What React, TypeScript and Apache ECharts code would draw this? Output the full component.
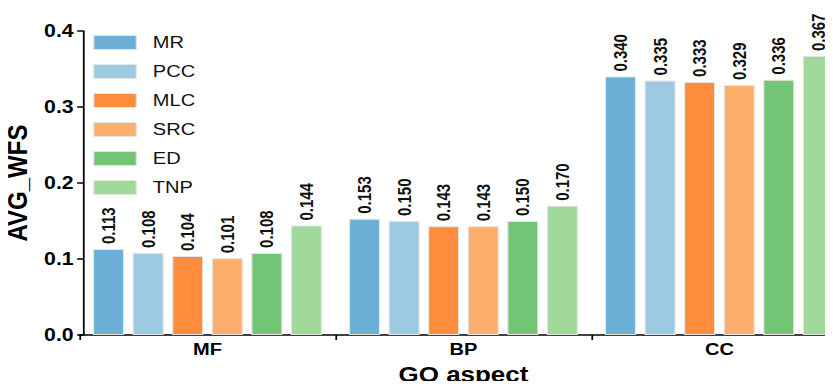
import React, { useEffect, useRef } from "react";
import * as echarts from "echarts";

const categories = ["MF", "BP", "CC"];
const seriesNames = ["MR", "PCC", "MLC", "SRC", "ED", "TNP"];
const colors = ["#6baed6", "#9ecae1", "#fd8d3c", "#fdae6b", "#74c476", "#a1d99b"];
const mrValues = [0.113, 0.153, 0.34];
const pccValues = [0.108, 0.15, 0.335];
const mlcValues = [0.104, 0.143, 0.333];
const srcValues = [0.101, 0.143, 0.329];
const edValues = [0.108, 0.15, 0.336];
const tnpValues = [0.144, 0.17, 0.367];
const yTicks = [0, 0.1, 0.2, 0.3, 0.4];

const seriesValues = [mrValues, pccValues, mlcValues, srcValues, edValues, tnpValues];
const FONT = "Liberation Sans, Arial, sans-serif";

// The figure is laid out on a narrower canvas and widened horizontally.
const OUT_W = 833;
const OUT_H = 389;
const STRETCH = 1.18;
const BASE_W = Math.round(OUT_W / STRETCH);

export default function App() {
  const ref = useRef<HTMLDivElement>(null);

  useEffect(() => {
    if (!ref.current) return;
    const chart = echarts.init(ref.current, null, { renderer: "svg" });
    chart.setOption({
      animation: false,
      backgroundColor: "#ffffff",
      textStyle: { fontFamily: FONT },
      grid: {
        left: 67.4,
        top: 31,
        bottom: 54,
        right: -12.2,
        containLabel: false,
        outerBoundsMode: "none",
      },
      legend: {
        orient: "vertical",
        left: 74,
        top: 29,
        itemWidth: 36,
        itemHeight: 14,
        itemGap: 12,
        icon: "rect",
        itemStyle: { borderColor: "#e4e4e4", borderWidth: 1 },
        textStyle: { fontSize: 17, color: "#111", fontFamily: FONT, padding: [0, 0, 0, 9] },
        data: seriesNames,
      },
      xAxis: {
        type: "category",
        data: categories,
        name: "GO aspect",
        nameLocation: "middle",
        nameGap: 27,
        nameTextStyle: { fontSize: 22, fontWeight: "bold", color: "#000", fontFamily: FONT },
        axisLine: { lineStyle: { color: "#000", width: 1.5 } },
        axisTick: { show: true, length: 5, alignWithLabel: false, lineStyle: { color: "#000", width: 1.5 } },
        axisLabel: { fontSize: 17, fontWeight: "bold", color: "#000", margin: 6, fontFamily: FONT },
      },
      yAxis: {
        type: "value",
        min: yTicks[0],
        max: yTicks[yTicks.length - 1],
        interval: 0.1,
        offset: -3,
        name: "AVG_WFS",
        nameLocation: "middle",
        nameGap: 34,
        nameTextStyle: { fontSize: 24, fontWeight: "bold", color: "#000", fontFamily: FONT },
        splitLine: { show: false },
        axisLine: { show: true, lineStyle: { color: "#000", width: 1.5 } },
        axisTick: { show: true, length: 5, lineStyle: { color: "#000", width: 1.5 } },
        axisLabel: {
          fontSize: 18,
          fontWeight: "bold",
          color: "#000",
          margin: 8,
          fontFamily: FONT,
          formatter: (v: number) => v.toFixed(1),
        },
      },
      series: seriesNames.map((name, i) => ({
        name,
        type: "bar",
        data: seriesValues[i],
        barGap: "27%",
        barCategoryGap: "10.5%",
        itemStyle: { color: colors[i], borderColor: "#e4e4e4", borderWidth: 1 },
        label: {
          show: true,
          position: "top",
          rotate: 90,
          align: "left",
          verticalAlign: "middle",
          distance: 5,
          fontSize: 15,
          fontWeight: "bold",
          color: "#111",
          fontFamily: FONT,
          formatter: (p: any) => Number(p.value).toFixed(3),
        },
      })),
    });
    return () => chart.dispose();
  }, []);

  return (
    <div style={{ width: OUT_W, height: OUT_H, margin: -8, overflow: "hidden", background: "#fff" }}>
      <div
        ref={ref}
        style={{
          width: BASE_W,
          height: OUT_H,
          transform: `scaleX(${OUT_W / BASE_W})`,
          transformOrigin: "0 0",
        }}
      />
    </div>
  );
}
